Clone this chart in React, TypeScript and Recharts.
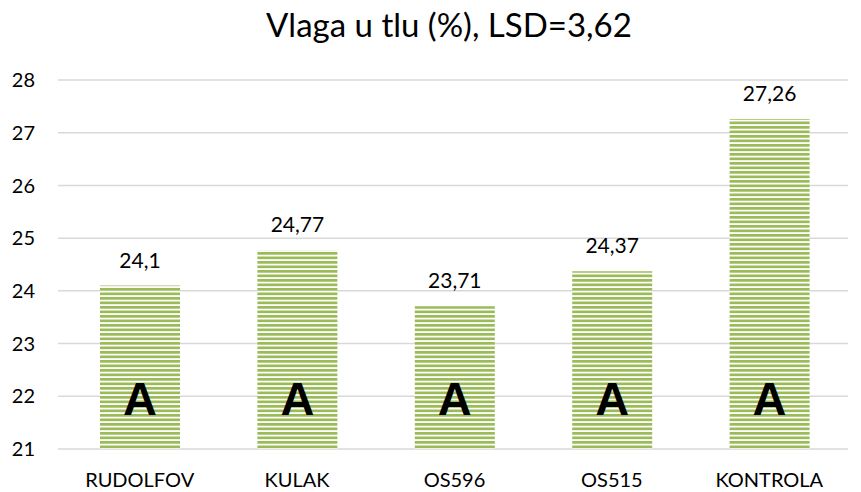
import React from "react"
import { Bar, BarChart, CartesianGrid, LabelList, XAxis, YAxis } from "recharts"

const categories = ["RUDOLFOV", "KULAK", "OS596", "OS515", "KONTROLA"]
const moisture = [24.1, 24.77, 23.71, 24.37, 27.26]
const groups = ["A", "A", "A", "A", "A"]
const yTicks = [21, 22, 23, 24, 25, 26, 27, 28]

const data = categories.map((name, i) => ({
  name,
  value: moisture[i],
  group: groups[i],
}))

const font = "Lato, 'Open Sans', sans-serif"

// big letter sitting near the bottom of each bar
const GroupLetter = (props: any) => {
  const { x, y, width, height, value } = props
  return (
    <text
      x={x + width / 2}
      y={y + height - 34}
      textAnchor="middle"
      fontFamily="'Liberation Sans', Arial, sans-serif"
      fontWeight="bold"
      fontSize={47}
      fill="#000"
    >
      {value}
    </text>
  )
}

export default function App() {
  return (
    <div style={{ position: "absolute", left: 0, top: 0, width: 861, height: 492, background: "#fff" }}>
      <div
        style={{
          position: "absolute",
          left: 0,
          top: 4,
          width: 898,
          textAlign: "center",
          fontFamily: font,
          fontSize: 33,
          color: "#000",
        }}
      >
        Vlaga u tlu (%), LSD=3,62
      </div>
      <BarChart
        width={861}
        height={492}
        data={data}
        margin={{ top: 80, right: 13, left: 0, bottom: 0 }}
        barSize={80}
      >
        <defs>
          <pattern id="stripes" patternUnits="userSpaceOnUse" width={8} height={4.5}>
            <rect x={0} y={0} width={8} height={4.5} fill="#ffffff" />
            <rect x={0} y={0} width={8} height={2.7} fill="#9bbb59" />
          </pattern>
        </defs>
        <CartesianGrid vertical={false} stroke="#d9d9d9" strokeWidth={1.5} />
        <XAxis
          dataKey="name"
          height={43}
          padding={{ left: 3, right: 0 }}
          axisLine={false}
          tickLine={false}
          tickSize={0}
          tickMargin={24}
          tick={{ fill: "#000", fontSize: 20, fontFamily: font }}
        />
        <YAxis
          width={58}
          domain={[21, 28]}
          ticks={yTicks}
          axisLine={false}
          tickLine={false}
          tickSize={0}
          tickMargin={23}
          tick={{ fill: "#000", fontSize: 20, fontFamily: font }}
        />
        <Bar dataKey="value" fill="url(#stripes)" isAnimationActive={false}>
          <LabelList
            dataKey="value"
            position="top"
            offset={18}
            formatter={(v: any) => String(v).replace(".", ",")}
            style={{ fill: "#000", fontSize: 21, fontFamily: font }}
          />
          <LabelList dataKey="group" content={GroupLetter} />
        </Bar>
      </BarChart>
    </div>
  )
}
